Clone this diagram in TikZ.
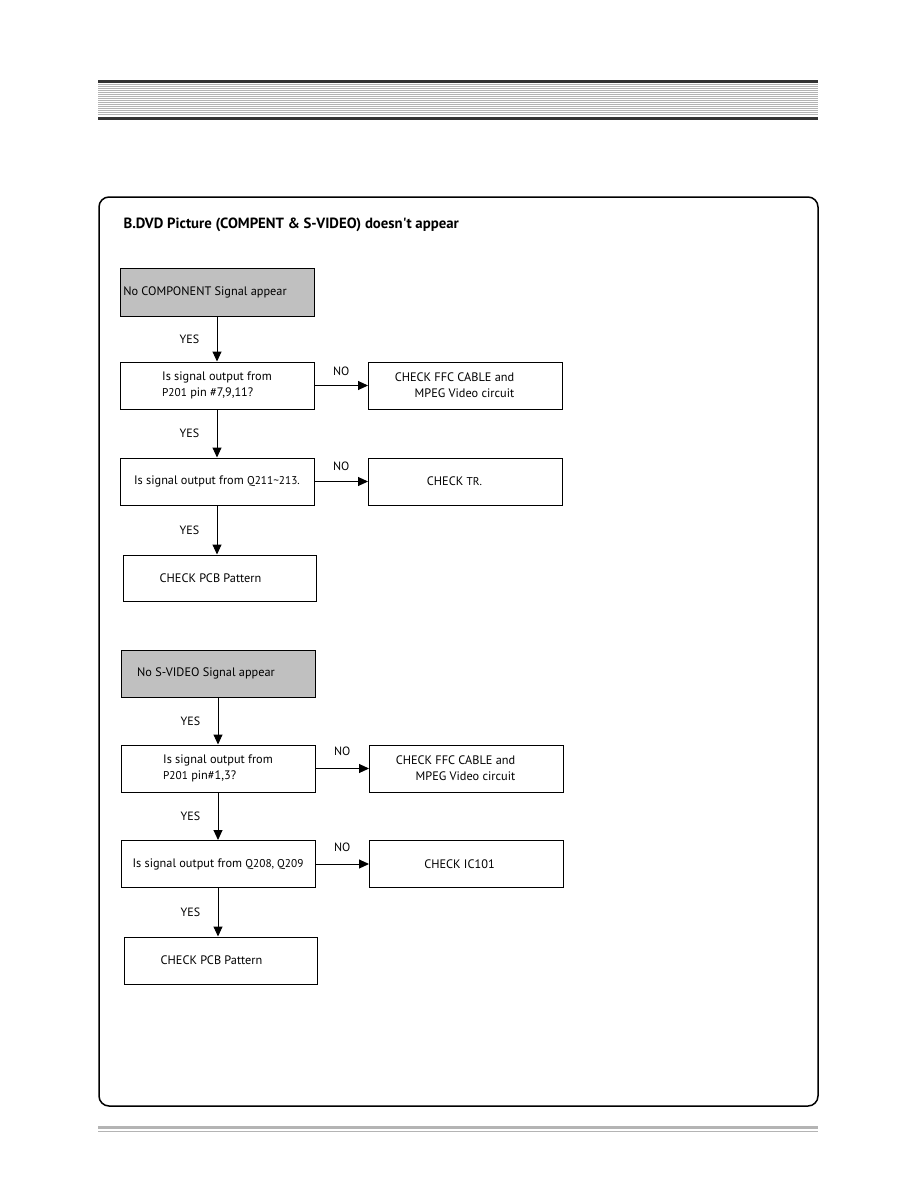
\documentclass[tikz,border=0pt]{standalone}
\usepackage{fontspec}
\setmainfont{PT Sans}
\usepackage{xcolor}
\usetikzlibrary{positioning, arrows.meta}
\definecolor{boxgray}{HTML}{C0C0C0}
\definecolor{bardark}{HTML}{333333}
\definecolor{barlight}{HTML}{B4B4B4}
\newcommand{\partno}[1]{{\fontsize{11.3}{13}\selectfont #1}}

\begin{document}
\begin{tikzpicture}[
    x=1pt, y=-1pt,
    stepbox/.style={rectangle, draw=black, line width=1pt, minimum width=194pt, minimum height=47pt, inner sep=2pt, font=\fontsize{12.3}{16}\selectfont},
    startbox/.style={stepbox, fill=boxgray},
    lbl/.style={font=\fontsize{12}{14}\selectfont},
    >={Triangle[width=9pt,length=10pt]}
]
    \useasboundingbox (0,0) rectangle (918,1188);

    % header bar
    \fill[bardark] (98,80) rectangle (818,83);
    \foreach \k in {0,...,15}
        \draw[barlight, line width=1pt] (98,{85+2*\k}) -- (818,{85+2*\k});
    \fill[bardark] (98,117) rectangle (818,120);

    % frame
    \draw[line width=1.5pt, rounded corners=10pt] (99,197) rectangle (818,1106);
    \node[anchor=west, font=\fontsize{14.8}{17}\selectfont\bfseries] (title) at (120,224.5) {B.DVD Picture (COMPENT \& S-VIDEO) doesn\textquotesingle t appear};

    % component
    \node[startbox, minimum height=48pt] (s1) at (217,292) {No COMPONENT Signal appear\hspace*{24pt}};
    \node[stepbox, align=left] (q1) at (217,385.5) {Is signal output from\\ \partno{P201} pin \#7,9,11?};
    \node[stepbox, align=right] (c1) at (465.5,385.5) {CHECK FFC CABLE and\hspace*{22pt}\\ MPEG Video circuit\hspace*{22pt}};
    \node[stepbox] (q2) at (217,481.5) {Is signal output from \partno{Q211\textasciitilde 213.}};
    \node[stepbox] (t1) at (465.5,481.5) {CHECK \partno{TR.}\hspace*{22pt}};
    \node[stepbox, minimum width=193pt, minimum height=46pt] (p1) at (219.5,578) {CHECK PCB Pattern\hspace*{18pt}};

    \draw[->, line width=1pt] (s1) -- node[lbl, left=14pt]{YES} (q1);
    \draw[->, line width=1pt] (q1) -- node[lbl, above=6pt]{NO} (c1);
    \draw[->, line width=1pt] (q1) -- node[lbl, left=14pt]{YES} (q2);
    \draw[->, line width=1pt] (q2) -- node[lbl, above=7pt]{NO} (t1);
    \draw[->, line width=1pt] (q2) -- node[lbl, left=14pt]{YES} (q2 |- p1.north);

    % s-video
    \node[startbox] (s2) at (218,673.5) {No S-VIDEO Signal appear\hspace*{24pt}};
    \node[stepbox, align=left] (q3) at (218,768.5) {Is signal output from\\ \partno{P201} pin\#1,3?};
    \node[stepbox, align=right] (c3) at (466.5,768.5) {CHECK FFC CABLE and\hspace*{22pt}\\ MPEG Video circuit\hspace*{22pt}};
    \node[stepbox] (q4) at (218,864) {Is signal output from \partno{Q208, Q209}};
    \node[stepbox] (t4) at (466.5,864) {CHECK IC101\hspace*{14pt}};
    \node[stepbox, minimum width=193pt] (p2) at (220.5,960.5) {CHECK PCB Pattern\hspace*{18pt}};

    \draw[->, line width=1pt] (s2) -- node[lbl, left=14pt]{YES} (q3);
    \draw[->, line width=1pt] (q3) -- node[lbl, above=9pt]{NO} (c3);
    \draw[->, line width=1pt] (q3) -- node[lbl, left=14pt]{YES} (q4);
    \draw[->, line width=1pt] (q4) -- node[lbl, above=9pt]{NO} (t4);
    \draw[->, line width=1pt] (q4) -- node[lbl, left=14pt]{YES} (q4 |- p2.north);

    % footer rule
    \fill[barlight] (98,1126) rectangle (818,1129);
    \draw[barlight, line width=0.8pt] (98,1131.5) -- (818,1131.5);
\end{tikzpicture}
\end{document}
